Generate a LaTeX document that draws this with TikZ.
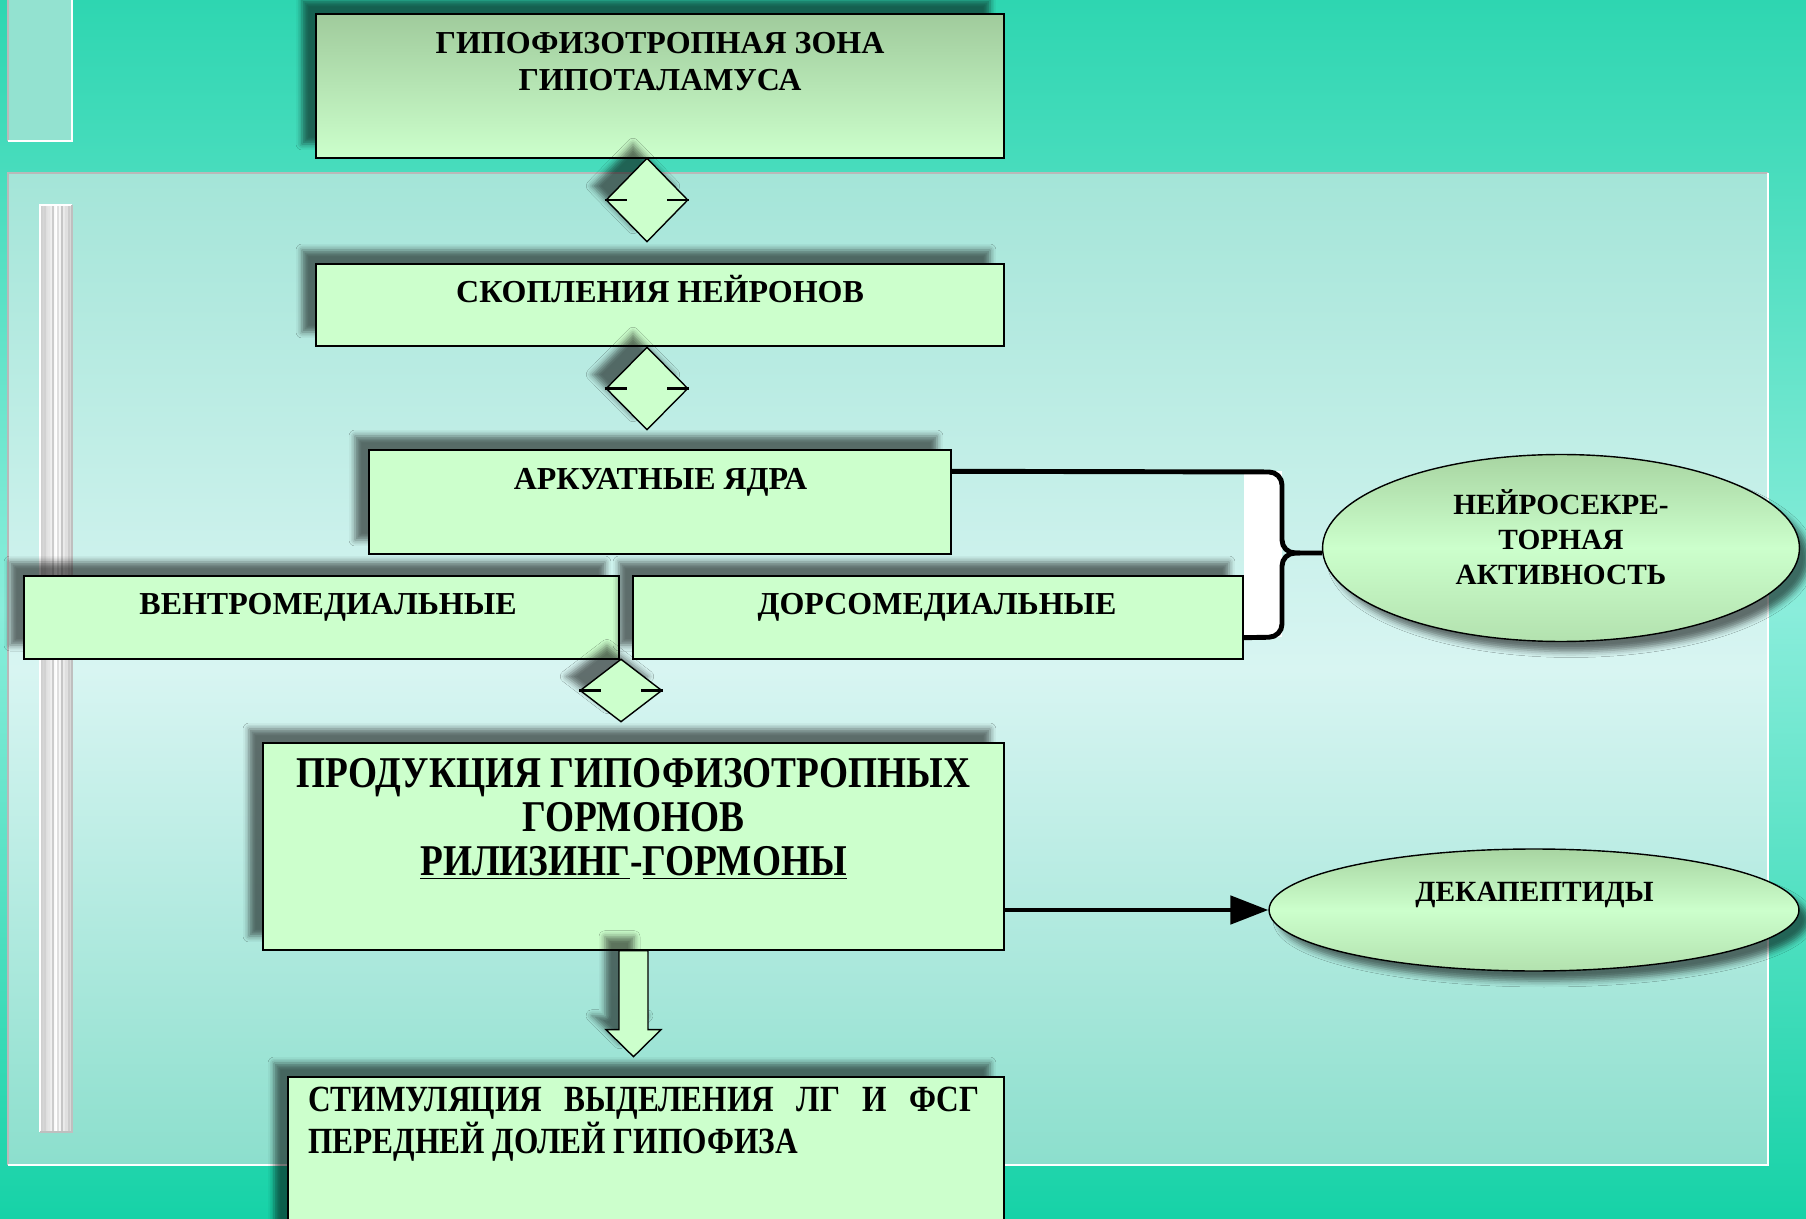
\documentclass[tikz,border=0pt]{standalone}
\usepackage{fontspec}
\setmainfont{Liberation Serif}
\newfontfamily\condfont[FakeStretch=0.85]{Liberation Serif}
\usetikzlibrary{positioning,calc,shapes.geometric,arrows.meta,shadows.blur}
\definecolor{bgtop}{HTML}{2ED6B1}
\definecolor{bgmid}{HTML}{8AEDDB}
\definecolor{bgbot}{HTML}{16D2A7}
\definecolor{paneltop}{HTML}{A4E5D8}
\definecolor{panelmid}{HTML}{D8F5F2}
\definecolor{panelbot}{HTML}{8CDFCD}
\definecolor{panelsmall}{HTML}{93E2D0}
\definecolor{boxgreen}{HTML}{CCFFCC}
\definecolor{boxdark}{HTML}{A0CB9C}
\definecolor{ovaldark}{HTML}{A8D5A2}
\tikzset{
  boxshadow/.style={blur shadow={shadow xshift=-0.28cm, shadow yshift=0.28cm, shadow opacity=55, shadow blur radius=0.12cm}},
  ovalshadow/.style={blur shadow={shadow xshift=0.2cm, shadow yshift=-0.2cm, shadow opacity=55, shadow blur radius=0.12cm}},
  box/.style={draw=black, line width=0.8pt, fill=boxgreen, inner sep=0pt, boxshadow},
  oval/.style={ellipse, draw=black, line width=0.8pt, top color=ovaldark, bottom color=ovaldark!70!boxgreen, middle color=boxgreen, inner sep=0pt, ovalshadow},
  updown/.style={diamond, draw=black, line width=0.8pt, fill=boxgreen, inner sep=0pt, minimum width=1.64cm, boxshadow},
  lbl/.style={font=\bfseries\fontsize{18.2}{21.6}\selectfont, inner sep=0pt, align=center},
  ovallbl/.style={lbl, font=\bfseries\fontsize{16.7}{20}\selectfont},
  brace/.style={line width=2.8pt, rounded corners=0.26cm},
  connector/.style={line width=2.8pt, -{Triangle[length=0.76cm, width=0.56cm, fill=black]}}
}
\begin{document}
\begin{tikzpicture}[x=0.02cm, y=-0.02cm]
  \path[use as bounding box, clip] (0,0) rectangle (1806,1219);
  % background and panels
  \shade[top color=bgtop, bottom color=bgbot, middle color=bgmid] (0,0) rectangle (1806,1219);
  \fill[panelsmall] (8,0) rectangle (72,141);
  \draw[gray!55, line width=1.2pt] (8,0) -- (8,141);
  \draw[white, line width=1.5pt] (72,0) -- (72,141) -- (8,141);
  \shade[top color=paneltop, bottom color=panelbot, middle color=panelmid] (8,173) rectangle (1768,1165);
  \draw[gray!55, line width=1.5pt] (8,1165) -- (8,173) -- (1768,173);
  \draw[white, line width=1.5pt] (1768,173) -- (1768,1165) -- (8,1165);
  % silver bar
  \shade[left color=gray!40, right color=gray!35, middle color=white] (40,205) rectangle (72,1132);
  \foreach \x/\c in {45/35, 49/20, 53/40, 58/25, 62/45, 66/25, 69/40}
    \draw[gray!\c, line width=0.8pt] (\x,205) -- (\x,1132);
  \draw[white, line width=1.5pt] (40,1132) -- (40,205) -- (72,205);
  \draw[gray!50, line width=1.5pt] (72,205) -- (72,1132) -- (40,1132);

  % boxes
  \node[box, top color=boxdark, bottom color=boxgreen, minimum width=13.76cm, minimum height=2.88cm] (gz) at (660,86) {};
  \node[box, minimum width=13.76cm, minimum height=1.64cm] (sk) at (660,305) {};
  \node[box, minimum width=11.64cm, minimum height=2.08cm] (ar) at (660,502) {};
  \node[box, minimum width=11.90cm, minimum height=1.66cm] (vm) at (321.5,617.5) {};
  \node[box, minimum width=12.20cm, minimum height=1.66cm] (dm) at (938,617.5) {};
  \node[box, minimum width=14.82cm, minimum height=4.14cm] (pr) at (633.5,846.5) {};
  \node[box, minimum width=14.32cm, minimum height=3.26cm] (st) at (646,1158.5) {};
  \node[oval, minimum width=9.54cm, minimum height=3.74cm] (ns) at (1561,548) {};
  \node[oval, minimum width=10.60cm, minimum height=2.44cm] (dc) at (1534,910) {};

  % up-down links
  \node[updown, minimum height=1.68cm] (d1) at (647,200) {};
  \node[updown, minimum height=1.66cm] (d2) at (647,388.5) {};
  \node[updown, minimum height=1.26cm] (d3) at (621,690.5) {};
  \foreach \d in {d1,d2,d3} {
    \draw[line width=1.2pt] (\d.west) -- ++(22,0);
    \draw[line width=1.2pt] (\d.east) -- ++(-22,0);
  }
  \draw[draw=black, line width=0.8pt, fill=boxgreen, boxshadow] (pr.south) ++(-14.5,0) -- ++(0,79) -- ++(-13,0)
    -- ++(27.5,27) -- ++(27.5,-27) -- ++(-13,0) -- ++(0,-79) -- cycle;

  % brace
  \coordinate (bt) at ($(ar.north east)+(0,22)$);
  \coordinate (bb) at ($(dm.south east)+(0,-22)$);
  \coordinate (cusp) at (1282,553);
  \fill[white] (bt -| dm.east) rectangle (1282,637);
  \draw[brace] (bt) -- (1282,472) -- (cusp) -- (cusp -| ns.west);
  \draw[brace] (1300,553) -- (cusp) -- (1282,637) -- (bb);
  \draw[connector] (pr.east |- dc.west) -- (dc.west);

  % texts
  \node[lbl, anchor=base] (gzt) at (660,91) {ГИПОФИЗОТРОПНАЯ ЗОНА\\ГИПОТАЛАМУСА};
  \node[lbl, anchor=base] (skt) at (660,303) {СКОПЛЕНИЯ НЕЙРОНОВ};
  \node[lbl, anchor=base] (art) at (660.5,490) {АРКУАТНЫЕ ЯДРА};
  \node[lbl, anchor=base] (vmt) at (328,615) {ВЕНТРОМЕДИАЛЬНЫЕ};
  \node[lbl, anchor=base] (dmt) at (937,615) {ДОРСОМЕДИАЛЬНЫЕ};
  \node[ovallbl, anchor=base] (nst) at (1561,585) {НЕЙРОСЕКРЕ-\\ТОРНАЯ\\АКТИВНОСТЬ};
  \node[ovallbl, anchor=base] (dct) at (1534.5,901) {ДЕКАПЕПТИДЫ};
  \node[lbl, anchor=base, font=\condfont\bfseries\fontsize{25}{25}\selectfont] (prt) at (633.5,875)
    {ПРОДУКЦИЯ ГИПОФИЗОТРОПНЫХ\\ГОРМОНОВ\\\underline{РИЛИЗИНГ}-\underline{ГОРМОНЫ}};
  \node[lbl, anchor=base west, align=left, font=\condfont\bfseries\fontsize{21}{22}\selectfont] (stt) at (308,1153)
    {\makebox[13.42cm][s]{СТИМУЛЯЦИЯ ВЫДЕЛЕНИЯ ЛГ И ФСГ}\\ПЕРЕДНЕЙ ДОЛЕЙ ГИПОФИЗА};
\end{tikzpicture}
\end{document}
